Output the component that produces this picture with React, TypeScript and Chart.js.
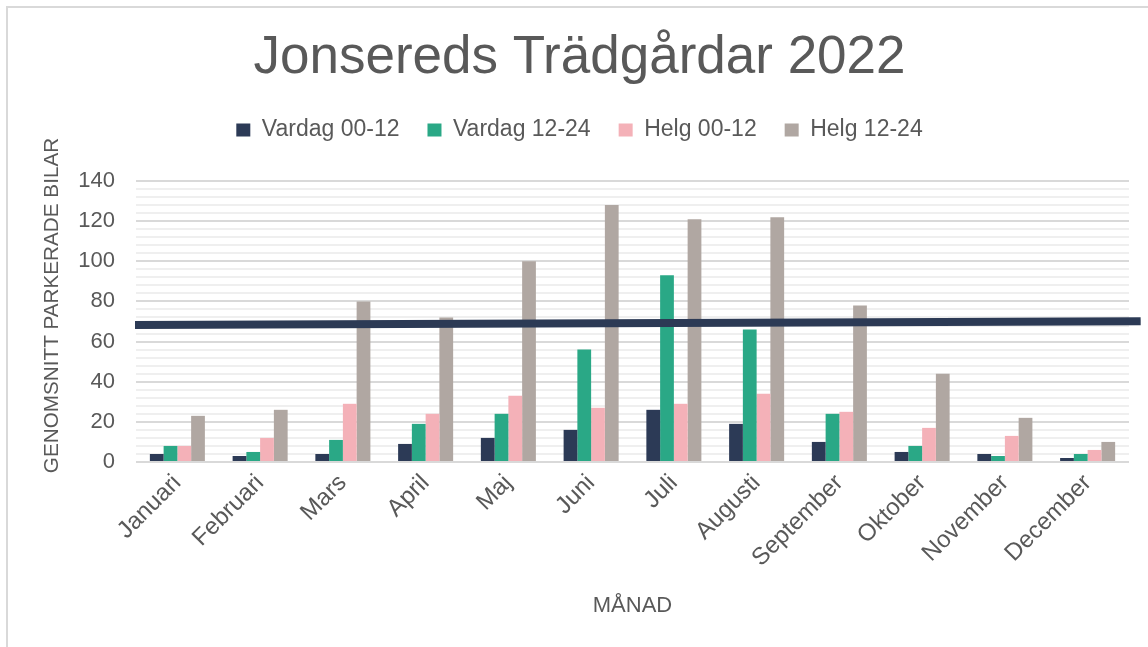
import React, { useEffect, useRef } from 'react';
import { Chart, registerables } from 'chart.js';

Chart.register(...registerables);

const months = ['Januari', 'Februari', 'Mars', 'April', 'Maj', 'Juni', 'Juli', 'Augusti', 'September', 'Oktober', 'November', 'December'];
const vardag0012 = [4, 3, 4, 9, 12, 16, 26, 19, 10, 5, 4, 2];
const vardag1224 = [8, 5, 11, 19, 24, 56, 93, 66, 24, 8, 3, 4];
const helg0012 = [8, 12, 29, 24, 33, 27, 29, 34, 25, 17, 13, 6];
const helg1224 = [23, 26, 80, 72, 100, 128, 121, 122, 78, 44, 22, 10];
// trend line ends, in month-index units (runs a little past both plot edges)
const trendPosition = [-0.512, 11.641];
const trendValues = [68.3, 70.1];
const seriesNames = ['Vardag 00-12', 'Vardag 12-24', 'Helg 00-12', 'Helg 12-24'];
const seriesColors = ['#2C3A56', '#2AA886', '#F4B1B8', '#B0A7A2'];
const yAxisTitle = 'GENOMSNITT PARKERADE BILAR';

const FONT = "'Liberation Sans', Arial, sans-serif";
const TEXT = '#595959';

const legendSpacer = {
  id: 'legendSpacer',
  afterInit(chart: any) {
    const legend = chart.legend;
    if (!legend) return;
    const orig = legend.fit;
    legend.fit = function () {
      orig.call(this);
      this.height += 29.5;
    };
  },
};

// y-axis title, placed slightly above the plot's vertical centre as in the original
const yTitlePlugin = {
  id: 'yTitlePlugin',
  afterDraw(chart: any) {
    const { ctx, chartArea } = chart;
    ctx.save();
    ctx.font = `20.7px ${FONT}`;
    ctx.fillStyle = TEXT;
    ctx.textAlign = 'center';
    ctx.textBaseline = 'middle';
    ctx.translate(52, (chartArea.top + chartArea.bottom) / 2 - 16);
    ctx.rotate(-Math.PI / 2);
    ctx.fillText(yAxisTitle, 0, 0);
    ctx.restore();
  },
};

export default function App() {
  const ref = useRef<HTMLCanvasElement>(null);

  useEffect(() => {
    if (!ref.current) return;
    const seriesData = [vardag0012, vardag1224, helg0012, helg1224];
    const barSets = seriesData.map((d, i) => ({
      type: 'bar' as const,
      label: seriesNames[i],
      data: d.map((v, j) => ({ x: j, y: v })),
      backgroundColor: seriesColors[i],
      borderWidth: 0,
      barPercentage: 1,
      categoryPercentage: 0.665,
    }));
    const lineSet: any = {
      type: 'line',
      label: 'trend',
      data: trendPosition.map((x, i) => ({ x, y: trendValues[i] })),
      borderColor: '#2C3A55',
      borderWidth: 8,
      borderCapStyle: 'butt',
      pointRadius: 0,
      fill: false,
      clip: false,
      order: -1,
    };
    const chart = new Chart(ref.current, {
      type: 'bar',
      data: { datasets: [...barSets, lineSet] as any },
      plugins: [legendSpacer, yTitlePlugin],
      options: {
        responsive: false,
        animation: false,
        layout: { padding: { left: 30, right: 19, top: 0, bottom: 0 } },
        plugins: {
          tooltip: { enabled: false },
          title: {
            display: true,
            text: 'Jonsereds Trädgårdar 2022',
            color: TEXT,
            font: { family: FONT, size: 53, weight: 'normal', lineHeight: 1.2 },
            padding: { top: 26.2, bottom: 0.7 },
          },
          legend: {
            display: true,
            position: 'top',
            labels: {
              color: TEXT,
              font: { family: FONT, size: 23 },
              boxWidth: 14,
              boxHeight: 13,
              padding: 28,
              filter: (item: any) => item.datasetIndex < 4,
            },
          },
        },
        scales: {
          x: {
            type: 'linear',
            min: -0.5,
            max: 11.5,
            offset: false,
            grid: { display: false, drawTicks: false },
            border: { display: false },
            afterBuildTicks: (s: any) => {
              s.ticks = months.map((_, i) => ({ value: i }));
            },
            ticks: {
              color: TEXT,
              font: { family: FONT, size: 24 },
              minRotation: 45,
              maxRotation: 45,
              padding: 7,
              autoSkip: false,
              callback: (v: any) => months[Math.round(v)] ?? '',
            },
            title: {
              display: true,
              text: 'MÅNAD',
              color: TEXT,
              font: { family: FONT, size: 22 },
              padding: { top: 0, bottom: 28 },
            },
            afterFit: (s: any) => { s.height = 185; },
          },
          y: {
            type: 'linear',
            min: 0,
            max: 140,
            grid: {
              drawTicks: false,
              color: (c: any) => (c.tick && c.tick.value % 20 === 0 ? '#d9d9d9' : '#efefef'),
              lineWidth: 2,
            },
            border: { display: false },
            ticks: {
              stepSize: 4,
              autoSkip: false,
              color: TEXT,
              font: { family: FONT, size: 22 },
              padding: 21,
              callback: (v: any) => (v % 20 === 0 ? String(v) : ''),
            },
            title: { display: false },
            afterFit: (s: any) => { s.width = 106; },
          },
        },
      },
    });
    return () => chart.destroy();
  }, []);

  return (
    <div style={{ position: 'absolute', left: 0, top: 0, width: 1148, height: 647, overflow: 'hidden', background: '#fff' }}>
      <div style={{ position: 'absolute', left: 6, top: 6, width: 1300, height: 800, border: '2px solid #d9d9d9', boxSizing: 'border-box' }} />
      <canvas ref={ref} width={1148} height={647} style={{ position: 'absolute', left: 0, top: 0 }} />
    </div>
  );
}
